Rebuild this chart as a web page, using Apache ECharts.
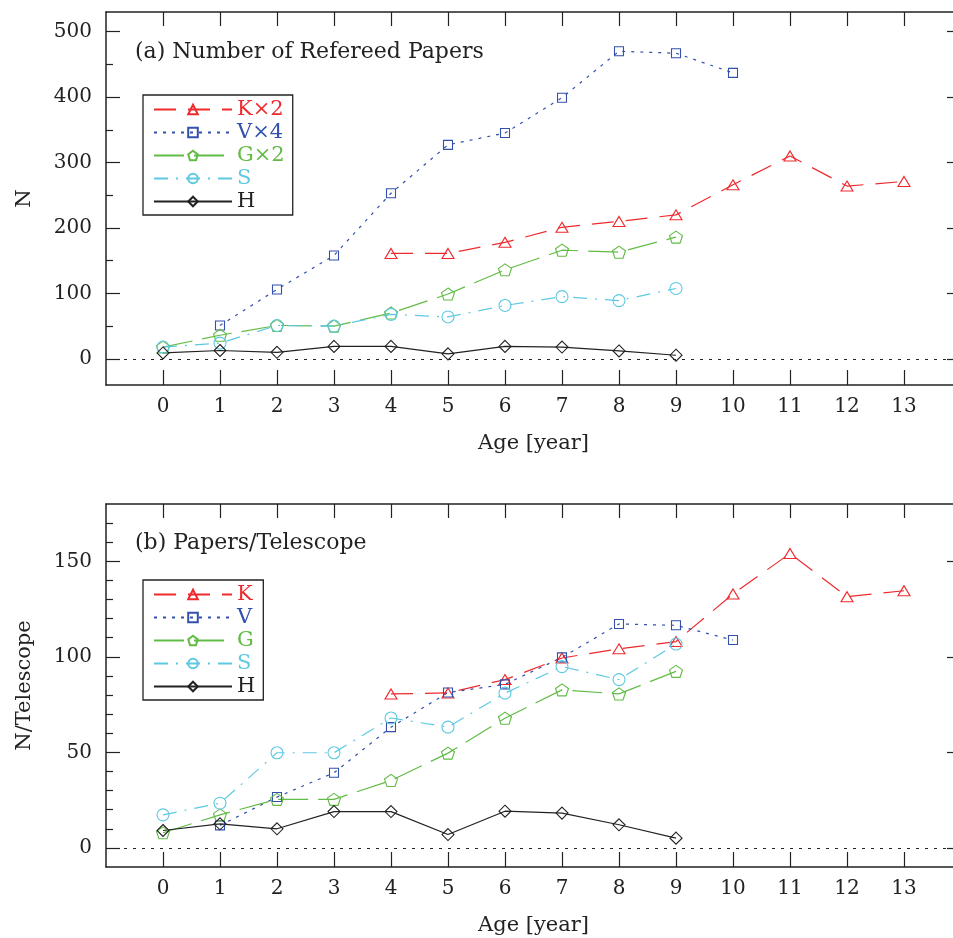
<!DOCTYPE html>
<html>
<head>
<meta charset="utf-8">
<script src="https://cdn.jsdelivr.net/npm/echarts@6/dist/echarts.min.js"></script>
<style>html,body{margin:0;padding:0;background:#fff;}#c{width:953px;height:938px;}</style>
</head>
<body>
<div id="c"></div>
<script>
// ---- data ----
const ages = [0,1,2,3,4,5,6,7,8,9,10,11,12,13];
// (a) Number of refereed papers (scaled)
const aK2 = [null,null,null,null,161,161,178,201,210,220,266,310,264,271];
const aV4 = [null,51,106,158,253,327,345,399,470,467,437,null,null,null];
const aG2 = [18,36,51,50,70,99,136,166,163,186,null,null,null,null];
const aS  = [18,24,51,50,68,64,81.5,95,89,107.5,null,null,null,null];
const aH  = [9,12.7,10,19,19,7.6,19,18,12,5.5,null,null,null,null];
// (b) Papers / telescope
const bK = [null,null,null,null,80.6,81.1,88.1,99.4,104.2,108,132.9,154.1,131.5,134.6];
const bV = [null,11.8,26.6,39.3,63.2,81.3,85.6,99.7,117.2,116.5,108.8,null,null,null];
const bG = [7.9,17.3,25.4,25.4,35.3,49.6,67.9,82.7,80.6,92.4,null,null,null,null];
const bS = [17.3,23.4,49.8,49.8,68,63.2,81,94.9,88.1,106.7,null,null,null,null];
const bH = [9.1,12.6,10,19,19,7,19.2,18.2,12.1,5.1,null,null,null,null];
// tick labels
const xTicks = ages;
const aYLabels = [0,100,200,300,400,500];
const aYMinor = [50,150,250,350,450];
const bYLabels = [0,50,100,150];
const bYMinor = [10,20,30,40,60,70,80,90,110,120,130,140,160,170];
const aNames = ['K×2','V×4','G×2','S','H'];
const bNames = ['K','V','G','S','H'];

const FONT = 'DejaVu Serif';
const INK = '#222';
const RED = '#ee2a2e', BLUE = '#3350ad', GREEN = '#62bb46', CYAN = '#5ec9e1', BLACK = '#222';

const styles = {
  K: {color: RED, type: [22, 12], symbol: 'triangle', size: [12, 10]},
  V: {color: BLUE, type: [3, 6], symbol: 'rect', size: [9, 9]},
  G: {color: GREEN, type: [30, 10], symbol: 'path://M0,-1 L0.951,-0.309 L0.588,0.809 L-0.588,0.809 L-0.951,-0.309 Z', size: [13, 12]},
  S: {color: CYAN, type: [14, 8, 2, 8], symbol: 'circle', size: 12},
  H: {color: BLACK, type: 'solid', symbol: 'path://M0,-1 L1,0 L0,1 L-1,0 Z', size: [12, 12]}
};
const keys = ['K','V','G','S','H'];

function pairs(arr) {
  const out = [];
  arr.forEach((v, i) => { if (v != null) out.push([ages[i], v]); });
  return out;
}
function mkSeries(name, key, arr, gi, withZero) {
  const st = styles[key];
  const s = {
    name: name, type: 'line', xAxisIndex: gi * 2, yAxisIndex: gi * 4,
    data: pairs(arr), symbol: st.symbol, symbolSize: st.size, showAllSymbol: true,
    lineStyle: {color: st.color, width: 1.2, type: st.type},
    itemStyle: {color: 'rgba(255,255,255,0)', borderColor: st.color, borderWidth: 1.1},
    emphasis: {disabled: true}, silent: true, z: 3
  };
  if (withZero) {
    s.markLine = {silent: true, symbol: ['none','none'], label: {show: false},
      lineStyle: {color: INK, type: [3, 6], width: 1.1}, data: [{yAxis: 0}], animation: false};
  }
  return s;
}

const aSets = [aK2, aV4, aG2, aS, aH];
const bSets = [bK, bV, bG, bS, bH];
const series = [];
keys.forEach((k, i) => series.push(mkSeries(aNames[i], k, aSets[i], 0, i === 4)));
keys.forEach((k, i) => series.push(mkSeries(bNames[i], k, bSets[i], 1, i === 4)));

const lbl = {fontFamily: FONT, fontSize: 20, color: INK};
function xAxes(gi) {
  return [
    {gridIndex: gi, type: 'value', position: 'bottom', min: -1, max: 14,
     axisLine: {show: true, onZero: false, lineStyle: {color: INK, width: 1.5}},
     axisTick: {show: true, inside: true, length: 15, customValues: xTicks, lineStyle: {color: INK, width: 1.2}},
     axisLabel: Object.assign({customValues: xTicks, margin: 12}, lbl),
     splitLine: {show: false},
     name: 'Age [year]', nameLocation: 'middle', nameGap: 48,
     nameTextStyle: {fontFamily: FONT, fontSize: 21, color: INK}},
    {gridIndex: gi, type: 'value', position: 'top', min: -1, max: 14,
     axisLine: {show: true, onZero: false, lineStyle: {color: INK, width: 1.5}},
     axisTick: {show: true, inside: true, length: 14, customValues: xTicks, lineStyle: {color: INK, width: 1.2}},
     axisLabel: {show: false}, splitLine: {show: false}}
  ];
}
function yAxes(gi, min, max, major, minor, name) {
  return [
    {gridIndex: gi, type: 'value', position: 'left', min: min, max: max,
     axisLine: {show: true, onZero: false, lineStyle: {color: INK, width: 1.5}},
     axisTick: {show: true, inside: true, length: 14, customValues: major, lineStyle: {color: INK, width: 1.2}},
     axisLabel: Object.assign({customValues: major, margin: 14}, lbl),
     splitLine: {show: false},
     name: name, nameLocation: 'middle', nameGap: 71,
     nameTextStyle: {fontFamily: FONT, fontSize: 21, color: INK}},
    {gridIndex: gi, type: 'value', position: 'left', min: min, max: max,
     axisLine: {show: false, onZero: false},
     axisTick: {show: true, inside: true, length: 7, customValues: minor, lineStyle: {color: INK, width: 1.2}},
     axisLabel: {show: false}, splitLine: {show: false}},
    {gridIndex: gi, type: 'value', position: 'right', min: min, max: max,
     axisLine: {show: true, onZero: false, lineStyle: {color: INK, width: 1.5}},
     axisTick: {show: true, inside: true, length: 14, customValues: major, lineStyle: {color: INK, width: 1.2}},
     axisLabel: {show: false}, splitLine: {show: false}},
    {gridIndex: gi, type: 'value', position: 'right', min: min, max: max,
     axisLine: {show: false, onZero: false},
     axisTick: {show: true, inside: true, length: 7, customValues: minor, lineStyle: {color: INK, width: 1.2}},
     axisLabel: {show: false}, splitLine: {show: false}}
  ];
}

function legend(names, top) {
  return {
    show: true, orient: 'vertical', left: 143, top: top,
    data: names.map((n, i) => ({name: n, textStyle: {color: styles[keys[i]].color}})),
    itemWidth: 78, itemHeight: 12, itemGap: 2,
    padding: [4, 8, 3, 10], borderColor: INK, borderWidth: 1.3, backgroundColor: '#fff',
    selectedMode: false, textStyle: {fontFamily: FONT, fontSize: 21}
  };
}

const option = {
  animation: false,
  backgroundColor: '#fff',
  textStyle: {fontFamily: FONT},
  title: [
    {text: '(a) Number of Refereed Papers', left: 130, top: 36,
     textStyle: {fontFamily: FONT, fontSize: 22, fontWeight: 'normal', color: INK}},
    {text: '(b) Papers/Telescope', left: 130, top: 527,
     textStyle: {fontFamily: FONT, fontSize: 22, fontWeight: 'normal', color: INK}}
  ],
  legend: [legend(aNames, 95), legend(bNames, 580)],
  grid: [
    {left: 106, top: 12, width: 855, height: 373, outerBoundsMode: 'none', containLabel: false},
    {left: 106, top: 504, width: 855, height: 363, outerBoundsMode: 'none', containLabel: false}
  ],
  xAxis: [...xAxes(0), ...xAxes(1)],
  yAxis: [...yAxes(0, -40, 530, aYLabels, aYMinor, 'N'), ...yAxes(1, -10, 180, bYLabels, bYMinor, 'N/Telescope')],
  series: series
};
const chart = echarts.init(document.getElementById('c'), null, {renderer: 'canvas'});
chart.setOption(option);
</script>
</body>
</html>
